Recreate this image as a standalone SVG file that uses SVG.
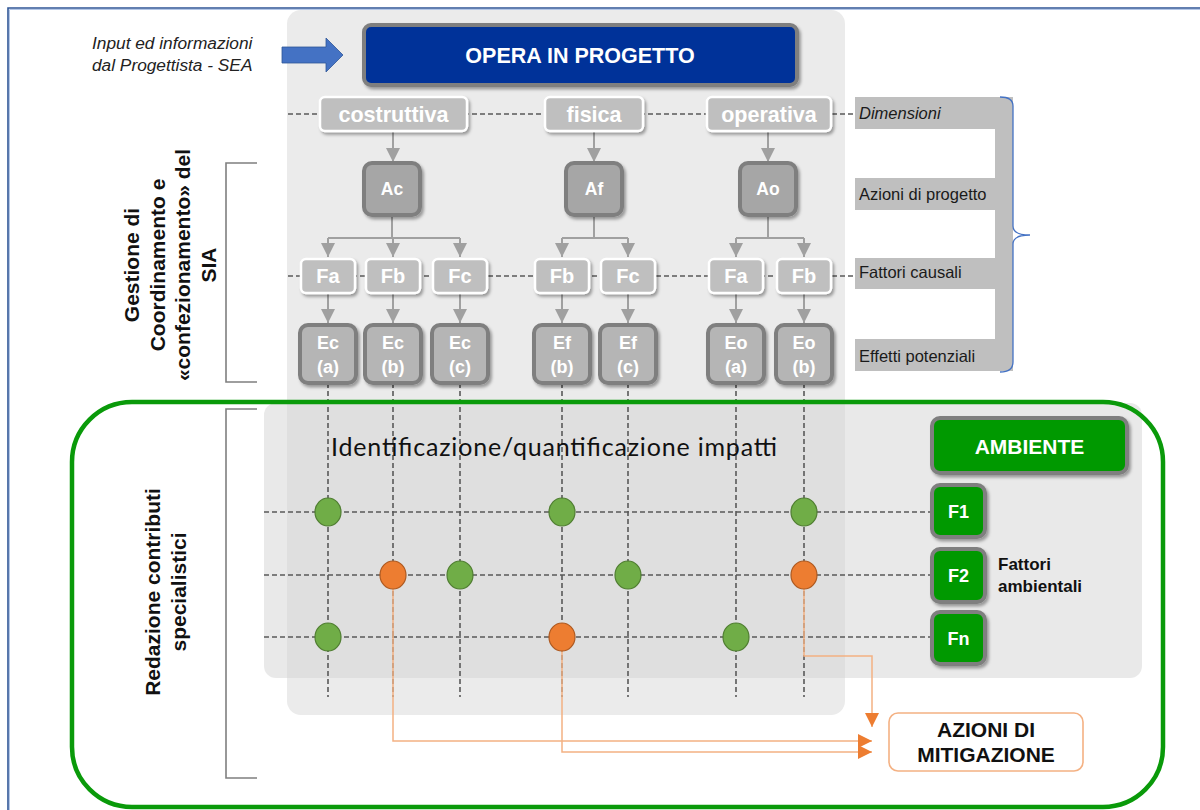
<svg xmlns="http://www.w3.org/2000/svg" width="1200" height="810" viewBox="0 0 1200 810">
<style>
.sans{font-family:"Liberation Sans",Arial,sans-serif}
.wt{fill:#fff;font-family:"Liberation Sans",Arial,sans-serif;font-weight:bold;text-anchor:middle}
.bt{fill:#111;font-family:"Liberation Sans",Arial,sans-serif;font-weight:bold}
.lbl{fill:#1a1a1a;font-family:"Liberation Sans",Arial,sans-serif;font-size:16.5px}
.dimbox{fill:#bfbfbf;stroke:#fff;stroke-width:2.5}
.abox{fill:#a6a6a6;stroke:#7f7f7f;stroke-width:4}
.ebox{fill:#b5b5b5;stroke:#7f7f7f;stroke-width:4}
.gbox{fill:#009900;stroke:#7f7f7f;stroke-width:4}
.dash{stroke:#595959;stroke-width:1.6;stroke-dasharray:5 3;fill:none}
.conn{stroke:#a0a0a0;stroke-width:2;fill:none}
.oconn{stroke:#f4b183;stroke-width:1.5;fill:none}
.gc{fill:#70ad47;stroke:#507e32;stroke-width:1.2}
.oc{fill:#ed7d31;stroke:#ae5a21;stroke-width:1.2}
.brk{stroke:#7f7f7f;stroke-width:1.6;fill:none}
</style>
<defs>
<filter id="sh" x="-20%" y="-20%" width="150%" height="150%">
<feDropShadow dx="2" dy="2.5" stdDeviation="1.5" flood-color="#000" flood-opacity="0.35"/>
</filter>
<marker id="ga" viewBox="0 0 10 10" refX="10" refY="5" markerWidth="14" markerHeight="14" markerUnits="userSpaceOnUse" orient="auto">
<path d="M0,0 L10,5 L0,10 z" fill="#a0a0a0"/>
</marker>
<marker id="oa" viewBox="0 0 10 10" refX="10" refY="5" markerWidth="15" markerHeight="14" markerUnits="userSpaceOnUse" orient="auto">
<path d="M0,0 L10,5 L0,10 z" fill="#ed7d31"/>
</marker>
</defs>

<rect width="1200" height="810" fill="#fff"/>
<!-- page border -->
<path d="M8 810 V8 H1200" fill="none" stroke="#2f5597" stroke-width="1.6"/>
<path d="M9.5 810 V9.5 H1200" fill="none" stroke="#b4c7e7" stroke-width="1"/>

<!-- panels -->
<rect id="panel-top" x="287" y="10" width="558" height="705" rx="14" fill="#ebebeb"/>
<rect id="panel-impatti" x="264" y="403" width="878" height="275" rx="12" fill="#d3d3d3" fill-opacity="0.5"/>

<!-- brackets -->
<path class="brk" d="M257 163 H226 V382 H257"/>
<path class="brk" d="M257 409 H226 V778 H257"/>

<!-- side labels -->
<g id="gestione" class="bt" font-size="21" text-anchor="middle">
<text transform="translate(139,265) rotate(-90)">Gestione di</text>
<text transform="translate(164.5,265) rotate(-90)">Coordinamento e</text>
<text transform="translate(190,265) rotate(-90)">«confezionamento» del</text>
<text transform="translate(215.5,265) rotate(-90)">SIA</text>
</g>
<g id="redazione" class="bt" font-size="21" text-anchor="middle">
<text transform="translate(160,592) rotate(-90)">Redazione contributi</text>
<text transform="translate(186,592) rotate(-90)">specialistici</text>
</g>

<!-- input -->
<g id="input">
<text class="sans" font-style="italic" font-size="17.3" fill="#222" x="92" y="49">Input ed informazioni</text>
<text class="sans" font-style="italic" font-size="17.3" fill="#222" x="92" y="71">dal Progettista - SEA</text>
<polygon points="282,47 326,47 326,38 343,55 326,72 326,63 282,63" fill="#4472c4" stroke="#2f5597" stroke-width="0.8"/>
</g>

<!-- right legend bracket -->
<g id="legenda">
<rect x="855" y="97" width="158" height="32" fill="#bfbfbf"/>
<rect x="855" y="178" width="158" height="32" fill="#bfbfbf"/>
<rect x="855" y="258" width="158" height="31" fill="#bfbfbf"/>
<rect x="855" y="339" width="158" height="32" fill="#bfbfbf"/>
<rect x="995" y="97" width="18" height="274" fill="#bfbfbf"/>
<path d="M1000 97 Q1013 97 1013 106 V226 Q1013 235 1030 235 Q1013 235 1013 244 V362 Q1013 372 1000 372" fill="none" stroke="#4472c4" stroke-width="1.3"/>
<text class="lbl" font-style="italic" x="859" y="119">Dimensioni</text>
<text class="lbl" x="859" y="200">Azioni di progetto</text>
<text class="lbl" x="859" y="278">Fattori causali</text>
<text class="lbl" x="859" y="362">Effetti potenziali</text>
</g>

<!-- connectors -->
<g id="connectors">
<path class="dash" d="M288 114 H855"/>
<path class="dash" d="M288 276 H855"/>
<path class="dash" d="M328 383 V697 M393 383 V697 M460 383 V697 M562 383 V697 M628 383 V697 M736 383 V697 M804 383 V697"/>
<path class="dash" d="M264 512 H932 M264 575 H932 M264 637 H932"/>
<path class="conn" d="M393 131 V162" marker-end="url(#ga)"/>
<path class="conn" d="M594 131 V162" marker-end="url(#ga)"/>
<path class="conn" d="M768 131 V162" marker-end="url(#ga)"/>
<path class="conn" d="M392 215 V238 M328 238 H460 M594 215 V238 M562 238 H628 M768 215 V238 M736 238 H804"/>
<path class="conn" d="M328 238 V257" marker-end="url(#ga)"/>
<path class="conn" d="M393 238 V257" marker-end="url(#ga)"/>
<path class="conn" d="M460 238 V257" marker-end="url(#ga)"/>
<path class="conn" d="M562 238 V257" marker-end="url(#ga)"/>
<path class="conn" d="M628 238 V257" marker-end="url(#ga)"/>
<path class="conn" d="M736 238 V257" marker-end="url(#ga)"/>
<path class="conn" d="M804 238 V257" marker-end="url(#ga)"/>
<path class="conn" d="M328 294 V323" marker-end="url(#ga)"/>
<path class="conn" d="M393 294 V323" marker-end="url(#ga)"/>
<path class="conn" d="M460 294 V323" marker-end="url(#ga)"/>
<path class="conn" d="M562 294 V323" marker-end="url(#ga)"/>
<path class="conn" d="M628 294 V323" marker-end="url(#ga)"/>
<path class="conn" d="M736 294 V323" marker-end="url(#ga)"/>
<path class="conn" d="M804 294 V323" marker-end="url(#ga)"/>
<path class="oconn" d="M393 589 V741 H872" marker-end="url(#oa)"/>
<path class="oconn" d="M562 651 V752 H872" marker-end="url(#oa)"/>
<path class="oconn" d="M804 589 V656 H872 V727" marker-end="url(#oa)"/>
</g>

<!-- green frame -->
<rect id="frame-redazione" x="72" y="402" width="1091" height="405" rx="60" fill="none" stroke="#0a9a0a" stroke-width="4.5"/>

<text id="impatti-title" x="331" y="456" font-family="Lato,'Open Sans',sans-serif" font-size="25" fill="#111" textLength="446" lengthAdjust="spacing">Identificazione/quantificazione impatti</text>

<!-- impact circles -->
<g id="impacts">
<ellipse class="gc" cx="328" cy="512" rx="13" ry="14"/>
<ellipse class="gc" cx="562" cy="512" rx="13" ry="14"/>
<ellipse class="gc" cx="804" cy="512" rx="13" ry="14"/>
<ellipse class="oc" cx="393" cy="575" rx="13" ry="14"/>
<ellipse class="gc" cx="460" cy="575" rx="13" ry="14"/>
<ellipse class="gc" cx="628" cy="575" rx="13" ry="14"/>
<ellipse class="oc" cx="804" cy="575" rx="13" ry="14"/>
<ellipse class="gc" cx="328" cy="637" rx="13" ry="14"/>
<ellipse class="oc" cx="562" cy="637" rx="13" ry="14"/>
<ellipse class="gc" cx="736" cy="637" rx="13" ry="14"/>
</g>

<!-- nodes -->
<g id="opera"><rect x="364" y="25" width="433" height="60" rx="7" fill="#003399" stroke="#7f7f7f" stroke-width="4" filter="url(#sh)"/><text class="wt" x="580" y="63" font-size="21.5">OPERA IN PROGETTO</text></g>

<g id="dim-costruttiva"><rect class="dimbox" x="320" y="97" width="147" height="34" rx="5" filter="url(#sh)"/><text class="wt" x="393.5" y="121.5" font-size="21.5">costruttiva</text></g>
<g id="dim-fisica"><rect class="dimbox" x="545" y="97" width="98" height="34" rx="5" filter="url(#sh)"/><text class="wt" x="594" y="121.5" font-size="21.5">fisica</text></g>
<g id="dim-operativa"><rect class="dimbox" x="707" y="97" width="124" height="34" rx="5" filter="url(#sh)"/><text class="wt" x="769" y="121.5" font-size="21.5">operativa</text></g>

<g id="Ac"><rect class="abox" x="364" y="163" width="56" height="52" rx="8" filter="url(#sh)"/><text class="wt" x="392" y="195" font-size="17.5">Ac</text></g>
<g id="Af"><rect class="abox" x="566" y="163" width="56" height="52" rx="8" filter="url(#sh)"/><text class="wt" x="594" y="195" font-size="17.5">Af</text></g>
<g id="Ao"><rect class="abox" x="740" y="163" width="56" height="52" rx="8" filter="url(#sh)"/><text class="wt" x="768" y="195" font-size="17.5">Ao</text></g>

<g id="Fa-c"><rect class="dimbox" x="301" y="259" width="54" height="34" rx="5" filter="url(#sh)"/><text class="wt" x="328" y="283" font-size="20">Fa</text></g>
<g id="Fb-c"><rect class="dimbox" x="366" y="259" width="54" height="34" rx="5" filter="url(#sh)"/><text class="wt" x="393" y="283" font-size="20">Fb</text></g>
<g id="Fc-c"><rect class="dimbox" x="433" y="259" width="54" height="34" rx="5" filter="url(#sh)"/><text class="wt" x="460" y="283" font-size="20">Fc</text></g>
<g id="Fb-f"><rect class="dimbox" x="535" y="259" width="54" height="34" rx="5" filter="url(#sh)"/><text class="wt" x="562" y="283" font-size="20">Fb</text></g>
<g id="Fc-f"><rect class="dimbox" x="601" y="259" width="54" height="34" rx="5" filter="url(#sh)"/><text class="wt" x="628" y="283" font-size="20">Fc</text></g>
<g id="Fa-o"><rect class="dimbox" x="709" y="259" width="54" height="34" rx="5" filter="url(#sh)"/><text class="wt" x="736" y="283" font-size="20">Fa</text></g>
<g id="Fb-o"><rect class="dimbox" x="777" y="259" width="54" height="34" rx="5" filter="url(#sh)"/><text class="wt" x="804" y="283" font-size="20">Fb</text></g>

<g id="Ec-a"><rect class="ebox" x="300" y="325" width="56" height="58" rx="8" filter="url(#sh)"/><text class="wt" x="328" y="349" font-size="18">Ec</text><text class="wt" x="328" y="373" font-size="18">(a)</text></g>
<g id="Ec-b"><rect class="ebox" x="365" y="325" width="56" height="58" rx="8" filter="url(#sh)"/><text class="wt" x="393" y="349" font-size="18">Ec</text><text class="wt" x="393" y="373" font-size="18">(b)</text></g>
<g id="Ec-c"><rect class="ebox" x="432" y="325" width="56" height="58" rx="8" filter="url(#sh)"/><text class="wt" x="460" y="349" font-size="18">Ec</text><text class="wt" x="460" y="373" font-size="18">(c)</text></g>
<g id="Ef-b"><rect class="ebox" x="534" y="325" width="56" height="58" rx="8" filter="url(#sh)"/><text class="wt" x="562" y="349" font-size="18">Ef</text><text class="wt" x="562" y="373" font-size="18">(b)</text></g>
<g id="Ef-c"><rect class="ebox" x="600" y="325" width="56" height="58" rx="8" filter="url(#sh)"/><text class="wt" x="628" y="349" font-size="18">Ef</text><text class="wt" x="628" y="373" font-size="18">(c)</text></g>
<g id="Eo-a"><rect class="ebox" x="708" y="325" width="56" height="58" rx="8" filter="url(#sh)"/><text class="wt" x="736" y="349" font-size="18">Eo</text><text class="wt" x="736" y="373" font-size="18">(a)</text></g>
<g id="Eo-b"><rect class="ebox" x="776" y="325" width="56" height="58" rx="8" filter="url(#sh)"/><text class="wt" x="804" y="349" font-size="18">Eo</text><text class="wt" x="804" y="373" font-size="18">(b)</text></g>

<g id="ambiente"><rect class="gbox" x="932" y="418" width="195" height="55" rx="8" filter="url(#sh)"/><text class="wt" x="1029.5" y="454" font-size="21">AMBIENTE</text></g>
<g id="F1"><rect class="gbox" x="932" y="485" width="53" height="52" rx="8" filter="url(#sh)"/><text class="wt" x="958.5" y="518" font-size="18">F1</text></g>
<g id="F2"><rect class="gbox" x="932" y="549" width="53" height="53" rx="8" filter="url(#sh)"/><text class="wt" x="958.5" y="582" font-size="18">F2</text></g>
<g id="Fn"><rect class="gbox" x="932" y="612" width="53" height="52" rx="8" filter="url(#sh)"/><text class="wt" x="958.5" y="645" font-size="18">Fn</text></g>
<g id="fattori-ambientali"><text class="bt" x="998" y="570" font-size="17">Fattori</text><text class="bt" x="998" y="592" font-size="17">ambientali</text></g>

<g id="mitigazione"><rect x="889" y="713" width="194" height="58" rx="9" fill="#fff" stroke="#f4b183" stroke-width="1.6"/><text class="bt" x="986" y="737" font-size="21" text-anchor="middle">AZIONI DI</text><text class="bt" x="986" y="762" font-size="21" text-anchor="middle">MITIGAZIONE</text></g>
</svg>
